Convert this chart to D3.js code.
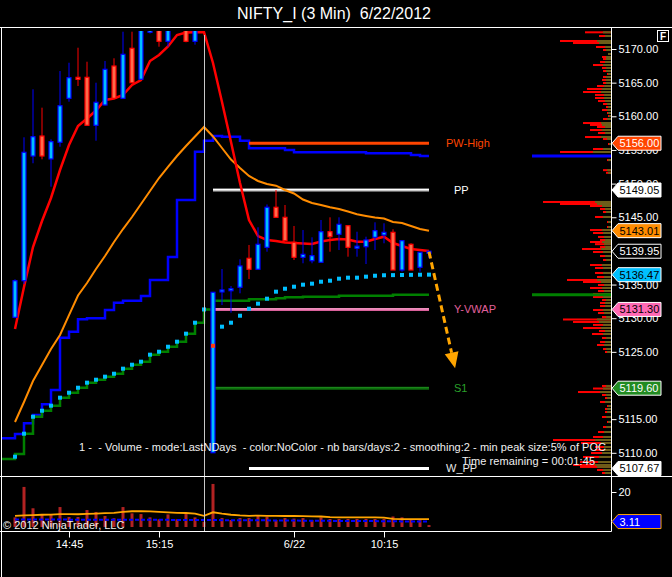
<!DOCTYPE html>
<html>
<head>
<meta charset="utf-8">
<script src="https://cdn.jsdelivr.net/npm/d3@7"></script>
<style>
  html, body { margin: 0; padding: 0; background: #000; }
  svg { display: block; }
  text { font-family: Arial, "Liberation Sans", sans-serif; white-space: pre; }
</style>
</head>
<body>
<svg id="chart" width="672" height="577"></svg>
<script>
// 3 min bars, 6/21 14:27 .. 6/22 10:33 (bar 22 = first bar of 6/22)
const opens  = [5130.13, 5135.57, 5154.10, 5157.07, 5153.66, 5156.14, 5162.67, 5165.79, 5165.79, 5158.66,
                5161.68, 5167.47, 5162.67, 5170.10, 5165.50, 5172.48, 5174.00, 5171.14, 5173.50, 5174.80,
                5171.14, 5174.00, 5110.01, 5134.05, 5134.22, 5134.59, 5138.90, 5137.27, 5140.53, 5146.48,
                5144.99, 5141.28, 5139.05, 5138.54, 5138.31, 5142.85, 5142.47, 5143.74, 5140.55, 5140.62,
                5142.02, 5142.36, 5142.76, 5137.16, 5140.98, 5137.56, 5139.90];
const highs  = [5135.78, 5156.88, 5164.01, 5161.28, 5156.58, 5166.73, 5167.96, 5170.19, 5168.11, 5164.99,
                5168.22, 5168.62, 5172.57, 5172.57, 5175.00, 5176.00, 5175.00, 5175.50, 5176.00, 5176.00,
                5175.00, 5176.00, 5133.85, 5137.31, 5134.78, 5138.75, 5140.88, 5143.51, 5146.90, 5149.05,
                5146.82, 5143.70, 5143.10, 5142.02, 5144.59, 5144.99, 5144.99, 5143.80, 5142.85, 5142.11,
                5144.25, 5144.10, 5143.21, 5141.52, 5141.13, 5139.79, 5140.00];
const lows   = [5130.00, 5135.08, 5153.02, 5153.61, 5149.54, 5155.48, 5162.17, 5164.50, 5158.60, 5156.37,
                5161.60, 5162.60, 5162.60, 5164.95, 5165.45, 5172.30, 5170.34, 5170.34, 5173.00, 5171.00,
                5170.64, 5173.20, 5110.00, 5131.96, 5130.82, 5133.70, 5135.82, 5137.17, 5139.88, 5144.95,
                5141.50, 5138.65, 5138.16, 5138.16, 5138.30, 5139.88, 5140.13, 5139.14, 5139.14, 5138.05,
                5140.13, 5141.13, 5137.16, 5136.91, 5137.16, 5136.91, 5138.90];
const closes = [5135.57, 5154.65, 5156.97, 5154.10, 5156.23, 5161.57, 5165.74, 5165.50, 5158.66, 5162.08,
                5166.98, 5162.67, 5169.21, 5164.99, 5174.00, 5175.00, 5171.14, 5174.50, 5175.50, 5171.14,
                5174.00, 5175.00, 5133.85, 5134.20, 5134.38, 5137.76, 5137.27, 5140.98, 5146.48, 5144.99,
                5141.52, 5139.05, 5139.49, 5139.29, 5142.85, 5142.11, 5143.95, 5140.53, 5140.70, 5141.62,
                5143.00, 5142.76, 5137.16, 5141.52, 5137.16, 5139.79, 5139.95];

// indicators on price panel
const fastMA = [5128.39, 5134.64, 5140.58, 5144.44, 5147.86, 5152.02, 5155.74, 5158.56, 5159.67, 5160.86,
                5162.42, 5162.64, 5163.16, 5164.65, 5165.39, 5168.22, 5169.11, 5170.37, 5172.08, 5172.45,
                5172.50, 5172.50, 5167.92, 5162.12, 5156.18, 5150.09, 5144.59, 5142.21, 5141.62, 5141.47,
                5141.25, 5141.17, 5141.10, 5141.02, 5141.40, 5141.62, 5141.77, 5141.70, 5141.37, 5141.37,
                5141.77, 5142.11, 5141.17, 5140.73, 5140.28, 5140.13, 5139.98];
const slowMA = [5114.58, 5117.55, 5120.67, 5123.05, 5125.42, 5127.50, 5130.47, 5133.37, 5135.23, 5137.31,
                5139.24, 5141.32, 5143.25, 5145.04, 5146.97, 5148.90, 5150.83, 5152.47, 5154.10, 5155.59,
                5157.00, 5158.41, 5157.00, 5155.29, 5153.58, 5152.32, 5151.13, 5150.39, 5149.94, 5149.69,
                5149.05, 5148.53, 5147.64, 5147.12, 5146.82, 5146.48, 5146.23, 5145.85, 5145.44, 5145.19,
                5144.96, 5144.81, 5144.29, 5144.15, 5143.70, 5143.25, 5143.01];
const blueStep = [5112.79, 5114.38, 5115.62, 5117.21, 5119.33, 5127.10, 5127.99, 5129.84, 5129.98, 5129.98,
                  5131.22, 5132.30, 5132.60, 5132.60, 5133.30, 5135.68, 5135.68, 5139.09, 5147.56, 5147.56,
                  5154.74, 5156.37, 5157.07, 5156.97, 5156.97, 5156.37, 5155.24, 5155.24, 5155.24, 5155.24,
                  5154.99, 5154.65, 5154.65, 5154.65, 5154.65, 5154.65, 5154.65, 5154.65, 5154.65, 5154.50,
                  5154.50, 5154.50, 5154.50, 5154.50, 5154.25, 5154.10, 5154.10];
const blueBefore = 5112.15;
const greenStep = [5109.82, 5112.84, 5115.36, 5116.25, 5117.00, 5118.19, 5118.93, 5119.67, 5120.42, 5120.86,
                   5121.31, 5121.75, 5122.50, 5123.09, 5123.54, 5124.58, 5125.02, 5125.76, 5126.51, 5127.70,
                   5129.33, 5131.30, 5132.60, 5132.60, 5132.60, 5132.60, 5132.81, 5132.81, 5132.81, 5132.96,
                   5133.10, 5133.10, 5133.19, 5133.19, 5133.19, 5133.19, 5133.34, 5133.34, 5133.34, 5133.34,
                   5133.34, 5133.34, 5133.49, 5133.49, 5133.49, 5133.49, 5133.49];
const greenBefore = 5109.08;
const vwap = [5109.42, 5112.84, 5115.36, 5116.25, 5117.00, 5118.19, 5118.93, 5119.67, 5120.42, 5120.86,
              5121.31, 5121.75, 5122.50, 5123.09, 5123.54, 5124.58, 5125.02, 5125.76, 5126.51, 5127.70,
              5129.33, 5131.30, 5125.90, 5128.74, 5129.33, 5130.37, 5131.41, 5132.16, 5132.90, 5133.94,
              5134.38, 5134.68, 5134.98, 5135.13, 5135.42, 5135.57, 5135.87, 5136.02, 5136.02, 5136.17,
              5136.31, 5136.38, 5136.40, 5136.42, 5136.44, 5136.46, 5136.47];
const sessionStart = 22;   // first bar of the new day (vwap reset)

// pivot levels
const levelNames  = ["PW-High", "PP", "Y-VWAP", "S1", "W_PP"];
const levelValues = [5156.00, 5149.05, 5131.30, 5119.60, 5107.67];
const levelFrom   = [26, 22, 22, 22, 26];

// volume panel
const volumes = [5.5, 22.9, 10.7, 7.4, 6.9, 11.4, 5.7, 5.7, 9.7, 8.6,
                 6.3, 5.0, 11.4, 7.8, 7.4, 5.5, 4.4, 7.2, 4.4, 7.4,
                 5.5, 3.0, 24.6, 5.1, 4.0, 5.1, 5.1, 6.7, 5.9, 4.0,
                 5.1, 4.8, 5.1, 4.0, 5.5, 4.6, 4.6, 4.6, 4.6, 4.6,
                 4.6, 4.6, 6.0, 5.5, 4.6, 4.6, 1.1];
const volMA = [6.3, 6.6, 6.8, 7.0, 7.1, 7.4, 7.4, 7.3, 7.5, 7.7,
               7.9, 8.1, 8.6, 9.0, 9.1, 8.9, 8.6, 8.3, 8.1, 8.0,
               7.6, 6.4, 8.4, 7.6, 7.0, 6.6, 6.4, 6.5, 6.4, 6.3,
               6.3, 6.3, 6.2, 6.1, 6.0, 5.6, 5.5, 5.5, 5.5, 5.5,
               5.5, 5.3, 4.6, 4.5, 4.5, 4.5, 4.5];
const volAvg = [4.3, 4.3, 4.3, 4.3, 4.3, 4.3, 4.2, 4.2, 4.2, 4.2,
                4.2, 4.2, 4.1, 4.1, 4.1, 4.1, 4.1, 4.1, 4.0, 4.0,
                4.0, 4.0, 4.0, 3.9, 3.9, 3.9, 3.8, 3.8, 3.8, 3.7,
                3.7, 3.7, 3.6, 3.6, 3.6, 3.5, 3.5, 3.5, 3.4, 3.4,
                3.4, 3.3, 3.3, 3.2, 3.2, 3.15, 3.11];

// time axis
const tickBars   = [6, 16, 31, 41];
const tickLabels = ["14:45", "15:15", "6/22", "10:15"];

// price axis (labels under the 5140 and 5120 tags are hidden in the chart)
const priceTicks = [5110, 5115, 5125, 5130, 5135, 5145, 5150, 5155, 5160, 5165, 5170];

// volume profile (price, total, first day part)
const profPrice = [5172.48, 5171.93, 5171.19, 5170.89, 5170.30, 5169.85, 5169.26, 5168.81, 5168.51, 5168.07,
                   5167.62, 5167.18, 5166.73, 5166.29, 5165.84, 5165.40, 5164.95, 5164.50, 5164.06, 5163.61,
                   5163.17, 5162.72, 5162.27, 5161.83, 5161.38, 5160.94, 5160.49, 5160.04, 5159.60, 5159.00,
                   5158.71, 5158.41, 5157.96, 5157.52, 5156.92, 5156.63, 5155.88, 5155.14, 5154.70, 5153.50,
                   5152.00, 5151.60, 5147.27, 5146.97, 5146.67, 5146.23, 5145.78, 5145.04, 5144.29, 5143.55,
                   5143.10, 5142.66, 5142.07, 5141.62, 5141.32, 5141.00, 5140.58, 5140.28, 5139.84, 5139.24,
                   5138.65, 5137.90, 5137.46, 5136.72, 5136.12, 5135.68, 5135.38, 5134.93, 5134.49, 5134.04,
                   5133.60, 5133.15, 5132.70, 5132.26, 5131.81, 5131.22, 5130.77, 5130.18, 5129.81, 5129.44,
                   5129.00, 5128.54, 5128.10, 5127.65, 5127.06, 5126.46, 5126.02, 5125.42, 5124.98, 5119.93,
                   5119.55, 5119.03, 5118.59, 5118.14, 5117.55, 5116.95, 5116.51, 5116.06, 5115.32, 5114.58,
                   5113.83, 5113.09, 5112.35, 5111.90, 5111.46, 5110.86, 5110.42, 5109.97, 5109.38, 5108.63,
                   5108.19, 5107.90, 5107.45, 5107.00];
const profTotal = [26, 12, 51, 38, 15, 8, 3, 9, 8, 11,
                   18, 9, 8, 4, 8, 9, 8, 14, 24, 28,
                   16, 16, 13, 8, 5, 9, 4, 3, 8, 28,
                   21, 14, 21, 13, 26, 8, 3, 18, 51, 4,
                   8, 5, 68, 51, 21, 11, 8, 16, 4, 4,
                   21, 18, 13, 11, 21, 16, 11, 29, 18, 11,
                   8, 21, 16, 16, 14, 44, 28, 13, 21, 13,
                   18, 18, 9, 11, 11, 18, 13, 9, 48, 38,
                   18, 28, 12, 19, 9, 11, 14, 8, 6, 9,
                   18, 33, 9, 6, 11, 4, 6, 6, 9, 4,
                   8, 13, 18, 58, 30, 16, 16, 20, 28, 31,
                   38, 31, 14, 9];
const profFirst = [8, 6, 14, 12, 6, 5, 3, 5, 5, 6,
                   8, 5, 5, 3, 5, 5, 5, 7, 9, 10,
                   7, 7, 6, 4, 3, 4, 3, 2, 4, 10,
                   9, 6, 9, 6, 10, 4, 2, 8, 18, 3,
                   4, 3, 16, 14, 9, 6, 5, 8, 3, 3,
                   9, 8, 7, 6, 9, 7, 6, 10, 8, 6,
                   5, 9, 8, 8, 7, 14, 10, 7, 9, 7,
                   8, 8, 5, 6, 6, 8, 7, 5, 14, 12,
                   8, 10, 6, 8, 5, 6, 7, 5, 4, 5,
                   8, 11, 5, 4, 6, 3, 4, 4, 5, 3,
                   5, 7, 8, 16, 10, 7, 8, 9, 12, 13,
                   16, 14, 8, 6];

// projected move annotation
const arrowBars   = [46, 48.9];
const arrowPrices = [5139.88, 5122.55];

const W = 672, H = 577;
const axisX = 611.5;
const svg = d3.select("#chart");
svg.append("rect").attr("width", W).attr("height", H).attr("fill", "#000");

const x  = d3.scaleLinear().domain([0, 46]).range([15, 429]);
const y  = d3.scaleLinear().domain([5110, 5170]).range([452.8, 49]);
const yv = d3.scaleLinear().domain([0, 20]).range([527, 492]);
const xp = d3.scaleLinear().domain([0, 70]).range([611, 541]);

const defs = svg.append("defs");
defs.append("clipPath").attr("id", "pclip").append("rect")
  .attr("x", 2).attr("y", 31).attr("width", axisX - 2).attr("height", 476 - 31);
defs.append("clipPath").attr("id", "vclip").append("rect")
  .attr("x", 2).attr("y", 477).attr("width", axisX - 2).attr("height", 531 - 477);

// title
svg.append("text").attr("x", 334).attr("y", 19).attr("text-anchor", "middle")
  .attr("fill", "#fff").style("font-size", "16px").text("NIFTY_I (3 Min)  6/22/2012");

const price = svg.append("g").attr("clip-path", "url(#pclip)");

// volume profile
profPrice.forEach((p, i) => {
  price.append("rect").attr("x", xp(profTotal[i])).attr("y", y(p) - 1)
    .attr("width", axisX - xp(profTotal[i])).attr("height", 2).attr("fill", "#ff0000");
  price.append("rect").attr("x", xp(profFirst[i])).attr("y", y(p) - 1)
    .attr("width", axisX - xp(profFirst[i])).attr("height", 2).attr("fill", "#6b5e1a");
});
price.append("line").attr("x1", 532).attr("x2", axisX)
  .attr("y1", y(blueStep[46])).attr("y2", y(blueStep[46]))
  .attr("stroke", "#0000ff").attr("stroke-width", 3);
price.append("line").attr("x1", 532).attr("x2", axisX)
  .attr("y1", y(greenStep[46])).attr("y2", y(greenStep[46]))
  .attr("stroke", "#008000").attr("stroke-width", 3);

// step lines
const stepLine = d3.line().curve(d3.curveStepAfter).x(d => d[0]).y(d => y(d[1]));
const bluePts  = [[2, blueBefore]].concat(blueStep.map((v, i) => [x(i), v]));
const greenPts = [[2, greenBefore]].concat(greenStep.map((v, i) => [x(i), v]));
price.append("path").attr("d", stepLine(bluePts)).attr("fill", "none")
  .attr("stroke", "#0000ff").attr("stroke-width", 2.5);
price.append("path").attr("d", stepLine(greenPts)).attr("fill", "none")
  .attr("stroke", "#008000").attr("stroke-width", 2.5);

// levels
const levelStyle = {
  "PW-High": { stroke: "#ff4500", inner: null,      text: "#ff4500", dx: 17 },
  "PP":      { stroke: "#c8c8c8", inner: "#ffffff", text: "#ffffff", dx: 25 },
  "Y-VWAP":  { stroke: "#d8609a", inner: "#ffb0d8", text: "#e0609c", dx: 25 },
  "S1":      { stroke: "#0b6a0b", inner: "#1f8a1f", text: "#2aa02a", dx: 25 },
  "W_PP":    { stroke: "#ffffff", inner: null,      text: "#e8e8e8", dx: 17 }
};
levelNames.forEach((name, i) => {
  const st = levelStyle[name];
  const yy = y(levelValues[i]);
  price.append("line").attr("x1", x(levelFrom[i])).attr("x2", x(46))
    .attr("y1", yy).attr("y2", yy).attr("stroke", st.stroke).attr("stroke-width", 3);
  if (st.inner) {
    price.append("line").attr("x1", x(levelFrom[i])).attr("x2", x(46))
      .attr("y1", yy - 0.5).attr("y2", yy - 0.5).attr("stroke", st.inner).attr("stroke-width", 1);
  }
  price.append("text").attr("x", x(46) + st.dx).attr("y", yy).attr("dy", "0.35em")
    .attr("fill", st.text).style("font-size", "11px").text(name);
});

// moving averages
const maLine = d3.line().x((d, i) => x(i)).y(d => y(d));
price.append("path").attr("d", maLine(slowMA)).attr("fill", "none")
  .attr("stroke", "#ff8c00").attr("stroke-width", 2);
price.append("path").attr("d", maLine(fastMA)).attr("fill", "none")
  .attr("stroke", "#ff0000").attr("stroke-width", 2.5);

// candles
const bw = 4;
closes.forEach((c, i) => {
  const o = opens[i], up = c >= o;
  const g = price.append("g");
  g.append("line").attr("x1", x(i)).attr("x2", x(i))
    .attr("y1", y(highs[i])).attr("y2", y(lows[i]))
    .attr("stroke", up ? "#0000ff" : "#ff0000").attr("stroke-width", 1);
  const top = y(Math.max(o, c)), h = Math.max(Math.abs(y(o) - y(c)), 2);
  g.append("rect").attr("x", x(i) - bw / 2).attr("y", top).attr("width", bw).attr("height", h)
    .attr("fill", up ? "#00bfff" : "#ff6a4a")
    .attr("stroke", up ? "#0000ff" : "#ff0000").attr("stroke-width", 1.2);
});

// vwap dots
vwap.forEach((v, i) => {
  price.append("rect").attr("x", x(i) - 2).attr("y", y(v) - 2).attr("width", 4).attr("height", 4)
    .attr("fill", i === sessionStart ? "#ff3a10" : "#00bfff");
});

// projected move arrow
const ax0 = x(arrowBars[0]), ay0 = y(arrowPrices[0]);
const ax1 = x(arrowBars[1]), ay1 = y(arrowPrices[1]);
const len = Math.hypot(ax1 - ax0, ay1 - ay0), ux = (ax1 - ax0) / len, uy = (ay1 - ay0) / len;
const headL = 16, headW = 7;
const bx = ax1 - ux * headL, by = ay1 - uy * headL;
price.append("line").attr("x1", ax0).attr("y1", ay0).attr("x2", bx).attr("y2", by)
  .attr("stroke", "#ffa500").attr("stroke-width", 3).attr("stroke-dasharray", "7,4");
price.append("path")
  .attr("d", `M${ax1},${ay1} L${bx - uy * headW},${by + ux * headW} L${bx + uy * headW},${by - ux * headW} Z`)
  .attr("fill", "#ffa500");

// volume panel
const vol = svg.append("g").attr("clip-path", "url(#vclip)");
volumes.forEach((v, i) => {
  vol.append("rect").attr("x", x(i) - 1.5).attr("y", yv(v)).attr("width", 3)
    .attr("height", yv(0) - yv(v)).attr("fill", "#b22222");
});
vol.append("path").attr("d", d3.line().x((d, i) => x(i)).y(d => yv(d))(volAvg))
  .attr("fill", "none").attr("stroke", "#0000ff").attr("stroke-width", 2).attr("stroke-dasharray", "4,2");
vol.append("path").attr("d", d3.line().x((d, i) => x(i)).y(d => yv(d))(volMA))
  .attr("fill", "none").attr("stroke", "#ffa500").attr("stroke-width", 1.8);

// session separator
svg.append("line").attr("x1", 204.5).attr("x2", 204.5).attr("y1", 35).attr("y2", 531)
  .attr("stroke", "#c8c8c8").attr("stroke-width", 1);

// frame
const frame = svg.append("g").attr("stroke", "#fff").attr("stroke-width", 1);
frame.append("line").attr("x1", 0).attr("x2", W).attr("y1", 27.5).attr("y2", 27.5);
frame.append("line").attr("x1", 0).attr("x2", W).attr("y1", 476.5).attr("y2", 476.5);
frame.append("line").attr("x1", 0).attr("x2", axisX).attr("y1", 531.5).attr("y2", 531.5);
frame.append("line").attr("x1", 1.5).attr("x2", 1.5).attr("y1", 27.5).attr("y2", H);
frame.append("line").attr("x1", axisX).attr("x2", axisX).attr("y1", 27.5).attr("y2", 531.5);

// axes
function styleAxis(g) {
  g.select(".domain").remove();
  g.selectAll(".tick line").attr("stroke", "#fff");
  g.selectAll(".tick text").attr("fill", "#fff").style("font-size", "11px")
    .style("font-family", "Arial, 'Liberation Sans', sans-serif");
}
svg.append("g").attr("transform", `translate(${axisX},0)`)
  .call(d3.axisRight(y).tickValues(priceTicks).tickFormat(d3.format(".2f"))
    .tickSize(5).tickPadding(2))
  .call(styleAxis);
svg.append("g").attr("transform", `translate(${axisX},0)`)
  .call(d3.axisRight(yv).tickValues([20]).tickFormat(d3.format("d")).tickSize(5).tickPadding(2))
  .call(styleAxis);
svg.append("g").attr("transform", "translate(0,531.5)")
  .call(d3.axisBottom(x).tickValues(tickBars).tickFormat((d, i) => tickLabels[i]).tickSize(6))
  .call(styleAxis);

// price tags
const tags = [
  { value: levelValues[0], fill: "#ff4500", color: "#ffffff" },
  { value: levelValues[1], fill: "#ffffff", color: "#000000" },
  { value: slowMA[46],     fill: "#ff8c00", color: "#000000" },
  { value: closes[46],     fill: "#000000", color: "#ffffff" },
  { value: vwap[46],       fill: "#00bfff", color: "#000000" },
  { value: levelValues[2], fill: "#ff69b4", color: "#000000" },
  { value: levelValues[3], fill: "#228b22", color: "#ffffff" },
  { value: levelValues[4], fill: "#ffffff", color: "#000000" }
];
function tag(yy, label, fill, color, stroke) {
  svg.append("path")
    .attr("d", `M612,${yy} L618,${yy - 7} L661,${yy - 7} L661,${yy + 7} L618,${yy + 7} Z`)
    .attr("fill", fill).attr("stroke", stroke).attr("stroke-width", 1);
  svg.append("text").attr("x", 619.5).attr("y", yy).attr("dy", "0.36em")
    .attr("fill", color).style("font-size", "11px").text(label);
}
tags.forEach(t => tag(y(t.value), d3.format(".2f")(t.value), t.fill, t.color, "#ffffff"));
tag(yv(volAvg[46]), d3.format(".2f")(volAvg[46]), "#0000ff", "#ffffff", "#ffa500");

// F button
svg.append("rect").attr("x", 657.5).attr("y", 30.5).attr("width", 11).attr("height", 11)
  .attr("fill", "#000").attr("stroke", "#fff");
svg.append("text").attr("x", 663).attr("y", 40).attr("text-anchor", "middle")
  .attr("fill", "#fff").style("font-size", "10px").style("font-weight", "bold").text("F");

// texts
svg.append("text").attr("x", 79).attr("y", 451).attr("fill", "#f0f0f0").style("font-size", "11px")
  .attr("textLength", 527)
  .text("1 -  - Volume - mode:LastNDays  - color:NoColor - nb bars/days:2 - smoothing:2 - min peak size:5% of POC");
svg.append("text").attr("x", 462).attr("y", 465).attr("fill", "#f0f0f0").style("font-size", "11px")
  .attr("textLength", 133).text("Time remaining = 00:01:45");
svg.append("text").attr("x", 3).attr("y", 529).attr("fill", "#f0f0f0").style("font-size", "11px")
  .text("\u00a9 2012 NinjaTrader, LLC");
</script>
</body>
</html>
